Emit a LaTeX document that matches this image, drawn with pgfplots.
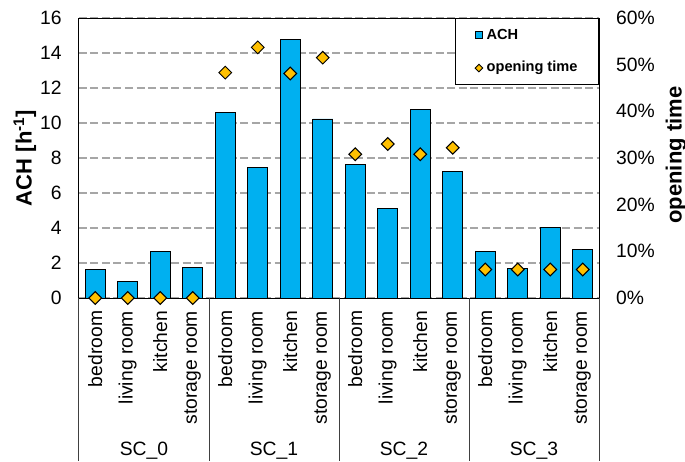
\documentclass[border=0pt]{standalone}
\usepackage{fontspec}
\setmainfont{Liberation Sans}
\usepackage{pgfplots}
\pgfplotsset{compat=1.18}
\definecolor{achblue}{HTML}{00B0F0}
\definecolor{otgold}{HTML}{FFC000}
\definecolor{gridgray}{HTML}{A6A6A6}
\newcommand{\tickfont}{\fontsize{19.3}{22}\selectfont}
\newcommand{\labfont}{\bfseries\fontsize{22}{26}\selectfont}
\begin{document}
\begin{tikzpicture}
\useasboundingbox (-79pt,-163pt) rectangle (606pt,298pt);
\begin{axis}[
  scale only axis, width=520pt, height=280pt,
  xmin=-0.5, xmax=15.5, ymin=0, ymax=16,
  ybar, bar width=20pt,
  xtick={0,...,15},
  xticklabels={bedroom,living room,kitchen,storage room,bedroom,living room,kitchen,storage room,bedroom,living room,kitchen,storage room,bedroom,living room,kitchen,storage room},
  xticklabel style={rotate=90, anchor=east, inner sep=0pt, font=\tickfont},
  xticklabel shift=12.7pt,
  ytick={0,2,...,16},
  ytick pos=left,
  yticklabel style={anchor=east, inner sep=0pt, font=\tickfont},
  yticklabel shift=17.3pt,
  /pgf/number format/assume math mode=true,
  major tick length=0pt,
  ymajorgrids,
  major grid style={draw=gridgray, line width=1.2pt, dash pattern=on 8pt off 3.5pt},
  axis line style={line width=1pt, draw=black},
  ylabel={ACH [h\textsuperscript{-1}]},
  ylabel style={at={(axis description cs:-0.104,0.5)}, anchor=center, font=\labfont},
  clip=false,
]
\addplot[fill=achblue, draw=black, line width=0.8pt] coordinates {
(0,1.62) (1,0.97) (2,2.65) (3,1.77)
(4,10.61) (5,7.44) (6,14.80) (7,10.23)
(8,7.61) (9,5.13) (10,10.75) (11,7.25)
(12,2.68) (13,1.71) (14,4.05) (15,2.76)};
\draw[line width=1pt, black!75] (axis cs:-0.5,0) -- ([yshift=-163pt]axis cs:-0.5,0);
\draw[line width=1pt, black!75] (axis cs:3.5,0) -- ([yshift=-163pt]axis cs:3.5,0);
\draw[line width=1pt, black!75] (axis cs:7.5,0) -- ([yshift=-163pt]axis cs:7.5,0);
\draw[line width=1pt, black!75] (axis cs:11.5,0) -- ([yshift=-163pt]axis cs:11.5,0);
\draw[line width=1pt, black!75] (axis cs:15.5,0) -- ([yshift=-163pt]axis cs:15.5,0);
\node[anchor=base, font=\tickfont] at ([yshift=-157.7pt]axis cs:1.5,0) {SC\_0};
\node[anchor=base, font=\tickfont] at ([yshift=-157.7pt]axis cs:5.5,0) {SC\_1};
\node[anchor=base, font=\tickfont] at ([yshift=-157.7pt]axis cs:9.5,0) {SC\_2};
\node[anchor=base, font=\tickfont] at ([yshift=-157.7pt]axis cs:13.5,0) {SC\_3};
\end{axis}
\begin{axis}[
  scale only axis, width=520pt, height=280pt,
  xmin=-0.5, xmax=15.5, ymin=0, ymax=60,
  axis x line=none, axis y line*=right,
  ytick={0,10,...,60},
  yticklabel={\pgfmathprintnumber{\tick}\%},
  yticklabel style={anchor=west, inner sep=0pt, font=\tickfont},
  yticklabel shift=17pt,
  /pgf/number format/assume math mode=true,
  major tick length=0pt,
  axis line style={line width=1pt, draw=black},
  ylabel={opening time},
  ylabel style={at={(axis description cs:1.148,0.51)}, anchor=center, font=\labfont},
  legend style={at={(1,1)}, anchor=north east, draw=black, line width=1pt, fill=white,
    font=\bfseries\fontsize{14.6}{17}\selectfont,
    inner xsep=19.5pt, inner ysep=8.5pt, row sep=16.3pt,
    /tikz/every odd column/.append style={column sep=2pt},
    nodes={inner sep=1.5pt, text height=10.5pt, text depth=3pt}},
  legend cell align=left,
  clip=false,
]
\addlegendimage{legend image code/.code={\draw[fill=achblue, draw=black, line width=0.8pt] (-3.4pt,-3.4pt) rectangle (3.4pt,3.4pt);}}
\addlegendentry{ACH}
\addplot[only marks, mark=square*, mark size=4.5pt,
  mark options={rotate=45, fill=otgold, draw=black, line width=1pt},
  legend image code/.code={\draw[fill=otgold, draw=black, line width=0.9pt] (0pt,-3.8pt)--(3.8pt,0pt)--(0pt,3.8pt)--(-3.8pt,0pt)--cycle;}]
coordinates {
(0,0) (1,0) (2,0) (3,0)
(4,48.3) (5,53.7) (6,48.1) (7,51.5)
(8,30.8) (9,33.0) (10,30.8) (11,32.2)
(12,6.1) (13,6.1) (14,6.1) (15,6.1)};
\addlegendentry{opening time}
\end{axis}
\end{tikzpicture}
\end{document}
